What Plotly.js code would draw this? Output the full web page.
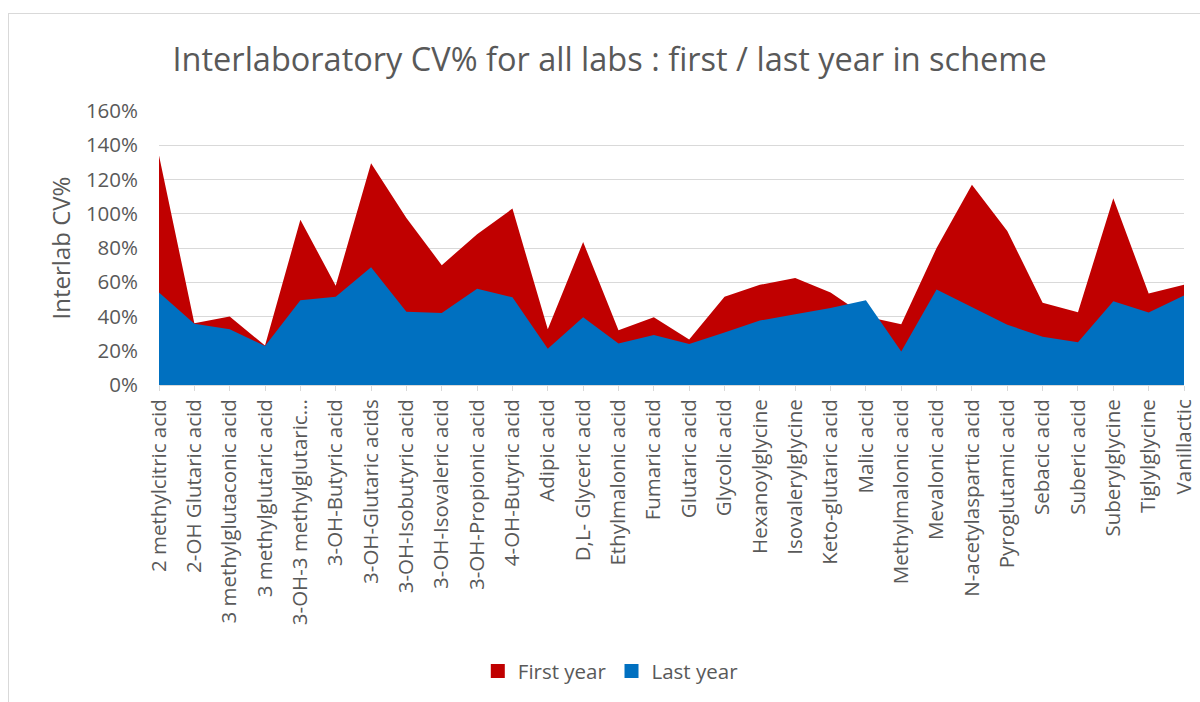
<!DOCTYPE html>
<html>
<head>
<meta charset="utf-8">
<script src="https://cdn.plot.ly/plotly-3.0.1.min.js"></script>
<style>
  html, body { margin: 0; padding: 0; background: #ffffff; }
  #chart { width: 1200px; height: 702px; }
  #frame { position: absolute; left: 8px; top: 13px; width: 1300px; height: 800px;
           border-left: 1px solid #d9d9d9; border-top: 1px solid #d9d9d9; pointer-events: none; }
</style>
</head>
<body>
<div id="chart"></div>
<div id="frame"></div>
<script>
const categories = [
  "2 methylcitric acid", "2-OH Glutaric acid", "3 methylglutaconic acid", "3 methylglutaric acid",
  "3-OH-3 methylglutaric...", "3-OH-Butyric acid", "3-OH-Glutaric acids", "3-OH-Isobutyric acid",
  "3-OH-Isovaleric acid", "3-OH-Propionic acid", "4-OH-Butyric acid", "Adipic acid",
  "D,L- Glyceric acid", "Ethylmalonic acid", "Fumaric acid", "Glutaric acid", "Glycolic acid",
  "Hexanoylglycine", "Isovalerylglycine", "Keto-glutaric acid", "Malic acid", "Methylmalonic acid",
  "Mevalonic acid", "N-acetylaspartic acid", "Pyroglutamic acid", "Sebacic acid", "Suberic acid",
  "Suberylglycine", "Tiglylglycine", "Vanillactic"
];
const firstYear = [134, 36, 40, 23, 96.5, 58, 129.5, 97.5, 70, 88, 103, 32.5, 83.5, 32, 39.5, 26.5,
  51.5, 58.5, 62.5, 54, 40, 35.5, 80, 117, 90, 48, 42.5, 109, 53.5, 58.5];
const lastYear = [54, 35.8, 32.5, 22.8, 49.5, 51.5, 68.8, 42.8, 42, 56.2, 51.2, 21.2, 39.6, 24.3, 29.2, 24,
  30.7, 37.6, 41.3, 45, 49.5, 19.5, 55.8, 45.6, 35.2, 28.2, 25, 48.9, 42.3, 52.2];
const yTicks = [0, 20, 40, 60, 80, 100, 120, 140, 160];
const seriesNames = ['First year', 'Last year'];
const seriesColors = ['#C00000', '#0070C0'];

const font = 'Open Sans, sans-serif';
const grey = '#595959';

const areas = [firstYear, lastYear].map((vals, i) => ({
  type: 'scatter', mode: 'lines', name: seriesNames[i], showlegend: false,
  x: categories, y: vals, fill: 'tozeroy',
  line: { color: seriesColors[i], width: 0 }, fillcolor: seriesColors[i], hoverinfo: 'skip'
}));
// legend entries (square swatches, as in the original)
const legendItems = seriesNames.map((n, i) => ({
  type: 'scatter', mode: 'markers', name: n, x: [null], y: [null],
  marker: { symbol: 'square', size: 14, color: seriesColors[i] }, hoverinfo: 'skip'
}));

const layout = {
  width: 1200, height: 702,
  margin: { l: 159, r: 16, t: 111, b: 317 },
  paper_bgcolor: '#ffffff', plot_bgcolor: '#ffffff',
  font: { family: font, color: grey },
  title: {
    text: 'Interlaboratory CV% for all labs : first / last year in scheme',
    font: { family: font, size: 32.5, color: grey },
    x: 0.508, xref: 'container', xanchor: 'center',
    y: 0.9145, yref: 'container', yanchor: 'middle'
  },
  xaxis: {
    type: 'category', range: [0, categories.length - 1],
    tickangle: -90, tickfont: { family: font, size: 20.5, color: grey },
    ticks: 'outside', ticklen: 5, tickcolor: '#d9d9d9', tickwidth: 1,
    showline: true, linecolor: '#d9d9d9', linewidth: 1,
    showgrid: false, zeroline: false, fixedrange: true
  },
  yaxis: {
    range: [0, 160], tickvals: yTicks, ticktext: yTicks.map(v => v + '%'),
    tickfont: { family: font, size: 20.5, color: grey },
    showgrid: true, gridcolor: '#d9d9d9', gridwidth: 1,
    zeroline: false, showline: false, ticks: '', ticklabelstandoff: 20,
    title: { text: 'Interlab CV%', font: { family: font, size: 24, color: grey }, standoff: 8 },
    fixedrange: true
  },
  showlegend: true,
  legend: {
    orientation: 'h', xref: 'container', yref: 'container',
    x: 0.509, xanchor: 'center', y: 0.044, yanchor: 'middle',
    font: { family: font, size: 20.5, color: grey },
    traceorder: 'normal', itemwidth: 30
  }
};

Plotly.newPlot('chart', areas.concat(legendItems), layout, { displayModeBar: false, staticPlot: true });
</script>
</body>
</html>
